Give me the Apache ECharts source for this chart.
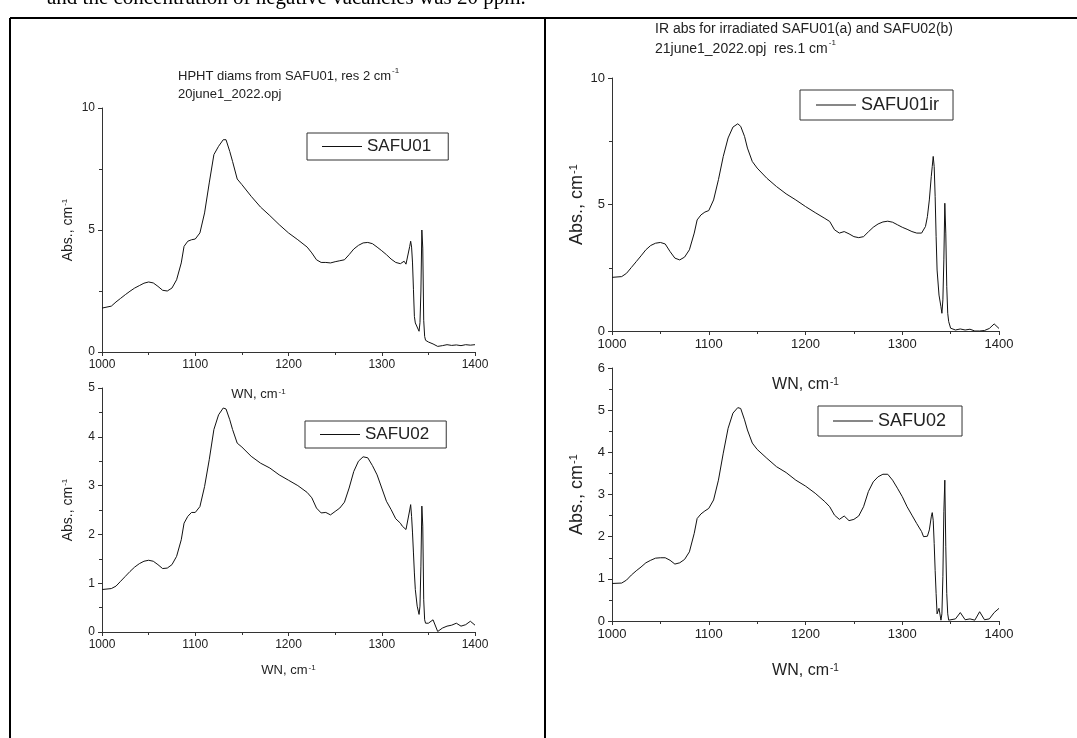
<!DOCTYPE html>
<html>
<head>
<meta charset="utf-8">
<script src="https://cdn.jsdelivr.net/npm/echarts@6/dist/echarts.min.js"></script>
<style>
  html, body { margin: 0; padding: 0; background: #fff; }
  #chart { width: 1077px; height: 738px; }
</style>
</head>
<body>
<div id="chart"></div>
<script>
// wavenumber grid, finer around the sharp lines near 1332 / 1344
var wn = [1000, 1010, 1015, 1020, 1025, 1030, 1035, 1040, 1045, 1050, 1055, 1060, 1065, 1070, 1075, 1080, 1085,
  1088, 1092, 1096, 1100, 1105, 1110, 1115, 1120, 1125, 1130, 1133, 1137, 1140, 1145, 1150,
  1160, 1170, 1180, 1190, 1200, 1210, 1220, 1225, 1230, 1235, 1240, 1245, 1250, 1255, 1260, 1265,
  1270, 1275, 1280, 1285, 1290, 1295, 1300, 1305, 1310, 1315, 1320, 1322, 1324, 1326, 1328,
  1330, 1331, 1332, 1333, 1334, 1335, 1336, 1338, 1340, 1341, 1342, 1343, 1344, 1345, 1346, 1347, 1348,
  1350, 1355, 1360, 1365, 1370, 1375, 1380, 1385, 1390, 1395, 1400];

// HPHT, 20june1_2022.opj
var safu01 = [1.80, 1.88, 2.05, 2.2, 2.35, 2.49, 2.62, 2.72, 2.82, 2.87, 2.83, 2.69, 2.53, 2.50, 2.62, 2.96, 3.65,
  4.33, 4.54, 4.6, 4.63, 4.88, 5.7, 6.93, 8.09, 8.43, 8.70, 8.70, 8.22, 7.81, 7.09, 6.86,
  6.38, 5.94, 5.59, 5.22, 4.88, 4.60, 4.30, 4.06, 3.78, 3.67, 3.67, 3.65, 3.70, 3.74, 3.78, 3.99,
  4.22, 4.37, 4.47, 4.49, 4.44, 4.30, 4.15, 3.99, 3.81, 3.67, 3.62, 3.54, 3.72, 3.6, 3.67,
  4.33, 4.54, 4.3, 3.65, 2.55, 1.46, 1.19, 1.2, 0.85, 1.2, 2.5, 5.0, 4.26, 1.3, 0.64, 0.48, 0.44,
  0.41, 0.33, 0.23, 0.26, 0.3, 0.27, 0.29, 0.26, 0.3, 0.28, 0.3];

var safu02 = [0.87, 0.89, 0.94, 1.04, 1.14, 1.24, 1.33, 1.40, 1.45, 1.47, 1.45, 1.38, 1.30, 1.31, 1.38, 1.55, 1.89,
  2.23, 2.37, 2.45, 2.45, 2.57, 2.98, 3.53, 4.15, 4.45, 4.59, 4.57, 4.35, 4.15, 3.87, 3.79,
  3.6, 3.46, 3.36, 3.22, 3.11, 3.0, 2.86, 2.75, 2.54, 2.44, 2.45, 2.40, 2.47, 2.54, 2.66, 2.95,
  3.29, 3.50, 3.59, 3.57, 3.41, 3.22, 2.95, 2.68, 2.51, 2.32, 2.23, 2.17, 2.2, 2.1, 2.13,
  2.5, 2.61, 2.37, 2.03, 1.62, 1.21, 0.87, 0.53, 0.36, 0.53, 1.35, 2.58, 2.17, 0.66, 0.25, 0.18, 0.18,
  0.18, 0.25, 0.01, 0.08, 0.12, 0.14, 0.18, 0.12, 0.15, 0.22, 0.14];

// irradiated, 21june1_2022.opj
var safu01ir = [2.12, 2.15, 2.28, 2.51, 2.74, 2.97, 3.21, 3.38, 3.47, 3.50, 3.44, 3.14, 2.88, 2.81, 2.92, 3.21, 3.87,
  4.39, 4.59, 4.70, 4.76, 5.18, 5.98, 6.90, 7.63, 8.06, 8.19, 8.09, 7.69, 7.23, 6.70, 6.44,
  6.04, 5.71, 5.42, 5.18, 4.92, 4.68, 4.45, 4.33, 4.0, 3.87, 3.93, 3.84, 3.73, 3.69, 3.73, 3.92,
  4.10, 4.23, 4.31, 4.34, 4.30, 4.20, 4.10, 4.02, 3.93, 3.87, 3.87, 3.93, 4.13, 4.52, 5.18,
  6.11, 6.5, 6.9, 6.5, 5.32, 3.73, 2.41, 1.42, 0.96, 0.70, 1.23, 2.81, 5.05, 3.87, 1.75, 0.70, 0.37,
  0.11, 0.04, 0.08, 0.04, 0.07, 0.0, 0.0, 0.02, 0.1, 0.28, 0.1];

var safu02ir = [0.89, 0.90, 0.97, 1.09, 1.19, 1.28, 1.38, 1.44, 1.49, 1.50, 1.50, 1.44, 1.35, 1.38, 1.46, 1.64, 2.08,
  2.43, 2.54, 2.61, 2.67, 2.87, 3.34, 3.98, 4.57, 4.93, 5.06, 5.04, 4.77, 4.53, 4.22, 4.07,
  3.86, 3.66, 3.52, 3.34, 3.2, 3.03, 2.83, 2.71, 2.51, 2.41, 2.49, 2.38, 2.41, 2.49, 2.71, 3.07,
  3.30, 3.42, 3.48, 3.48, 3.34, 3.15, 2.95, 2.71, 2.51, 2.31, 2.12, 2.0, 2.04, 2.01, 2.16,
  2.47, 2.57, 2.39, 1.84, 1.20, 0.65, 0.17, 0.3, 0.02, 0.17, 1.05, 2.59, 3.34, 1.76, 0.65, 0.17, 0.02,
  0.0, 0.05, 0.2, 0.03, 0.05, 0.02, 0.22, 0.03, 0.05, 0.2, 0.3];

var font = "Liberation Sans";
var ink = "#222";

function pairs(ys) {
  return wn.map(function (x, i) { return [x, ys[i]]; });
}

function sup(size) {
  return { sup: { fontSize: size, fontFamily: font, color: ink, verticalAlign: "top", padding: [0, 0, 0, 1] } };
}

// plain numbers, no thousands separator
function plain(v) {
  return String(v);
}

function xAx(idx, fs, nameFs, gap, pad) {
  return {
    gridIndex: idx, type: "value", min: 1000, max: 1400, interval: 100,
    name: "WN, cm{sup|-1}", nameLocation: "middle", nameGap: gap,
    nameTextStyle: { fontSize: nameFs, color: ink, fontFamily: font, padding: pad || 0, rich: sup(Math.round(nameFs * 0.6)) },
    axisLine: { lineStyle: { color: "#333", width: 1 } },
    axisTick: { length: 4, lineStyle: { color: "#333" } },
    minorTick: { show: true, splitNumber: 2, length: 3, lineStyle: { color: "#333" } },
    axisLabel: { fontSize: fs, color: ink, fontFamily: font, margin: 7, formatter: plain },
    splitLine: { show: false },
  };
}

function yAx(idx, max, interval, fs, nameFs, gap) {
  return {
    gridIndex: idx, type: "value", min: 0, max: max, interval: interval,
    name: "Abs., cm{sup|-1}", nameLocation: "middle", nameGap: gap,
    nameTextStyle: { fontSize: nameFs, color: ink, fontFamily: font, rich: sup(Math.round(nameFs * 0.6)) },
    axisLine: { show: true, lineStyle: { color: "#333", width: 1 } },
    axisTick: { show: true, length: 4, lineStyle: { color: "#333" } },
    minorTick: { show: true, splitNumber: 2, length: 3, lineStyle: { color: "#333" } },
    axisLabel: { fontSize: fs, color: ink, fontFamily: font, margin: 7, formatter: plain },
    splitLine: { show: false },
  };
}

function legendBox(name, left, top, fs, pad) {
  return {
    data: [name], left: left, top: top, orient: "horizontal",
    icon: "rect", itemWidth: 40, itemHeight: 1,
    borderColor: "#333", borderWidth: 1, borderRadius: 0, padding: pad,
    backgroundColor: "#fff",
    textStyle: { fontSize: fs, color: ink, fontFamily: font, lineHeight: fs + 2 },
    selectedMode: false,
  };
}

function line(name, idx, ys) {
  return {
    name: name, type: "line", xAxisIndex: idx, yAxisIndex: idx,
    data: pairs(ys), showSymbol: false, symbol: "none",
    color: "#111", lineStyle: { color: "#111", width: 1 },
  };
}

var chart = echarts.init(document.getElementById("chart"));
chart.setOption({
  animation: false,
  textStyle: { fontFamily: font },
  grid: [
    { left: 102, top: 108, width: 373, height: 244, outerBoundsMode: "none" },
    { left: 102, top: 388, width: 373, height: 244, outerBoundsMode: "none" },
    { left: 612, top: 78, width: 387, height: 253, outerBoundsMode: "none" },
    { left: 612, top: 368, width: 387, height: 253, outerBoundsMode: "none" },
  ],
  xAxis: [
    xAx(0, 12, 13, 36, [0, 60, 0, 0]),
    xAx(1, 12, 13, 32),
    xAx(2, 13, 16, 46),
    xAx(3, 13, 16, 42),
  ],
  yAxis: [
    yAx(0, 10, 5, 12, 14, 27),
    yAx(1, 5, 1, 12, 14, 27),
    yAx(2, 10, 5, 13, 18, 26),
    yAx(3, 6, 1, 13, 18, 26),
  ],
  legend: [
    legendBox("SAFU01", 307, 133, 17, [4, 17, 4, 15]),
    legendBox("SAFU02", 305, 421, 17, [4, 17, 4, 15]),
    legendBox("SAFU01ir", 800, 90, 18, [5, 14, 5, 16]),
    legendBox("SAFU02", 818, 406, 18, [5, 16, 5, 15]),
  ],
  series: [
    line("SAFU01", 0, safu01),
    line("SAFU02", 1, safu02),
    line("SAFU01ir", 2, safu01ir),
    line("SAFU02", 3, safu02ir),
  ],
  graphic: [
    // page text cut off at the top
    { type: "text", left: 47, top: -12, style: { text: "and the concentration of negative vacancies was 20 ppm.", font: "21px 'Liberation Serif'", fill: "#000" } },
    // table borders
    { type: "line", shape: { x1: 10, y1: 18, x2: 1077, y2: 18 }, style: { stroke: "#000", lineWidth: 2 } },
    { type: "line", shape: { x1: 10, y1: 18, x2: 10, y2: 738 }, style: { stroke: "#000", lineWidth: 2 } },
    { type: "line", shape: { x1: 545, y1: 18, x2: 545, y2: 738 }, style: { stroke: "#000", lineWidth: 2 } },
    // plot titles
    { type: "text", left: 178, top: 67, style: {
      text: "HPHT diams from SAFU01, res 2 cm{s|-1}\n20june1_2022.opj", fill: ink,
      font: "13px 'Liberation Sans'", lineHeight: 18,
      rich: { s: { fontSize: 8, fill: ink, verticalAlign: "top", padding: [0, 0, 0, 1] } } } },
    { type: "text", left: 655, top: 19, style: {
      text: "IR abs for irradiated SAFU01(a) and SAFU02(b)\n21june1_2022.opj  res.1 cm{s|-1}", fill: ink,
      font: "14px 'Liberation Sans'", lineHeight: 20,
      rich: { s: { fontSize: 8, fill: ink, verticalAlign: "top", padding: [0, 0, 0, 1] } } } },
  ],
});
</script>
</body>
</html>
